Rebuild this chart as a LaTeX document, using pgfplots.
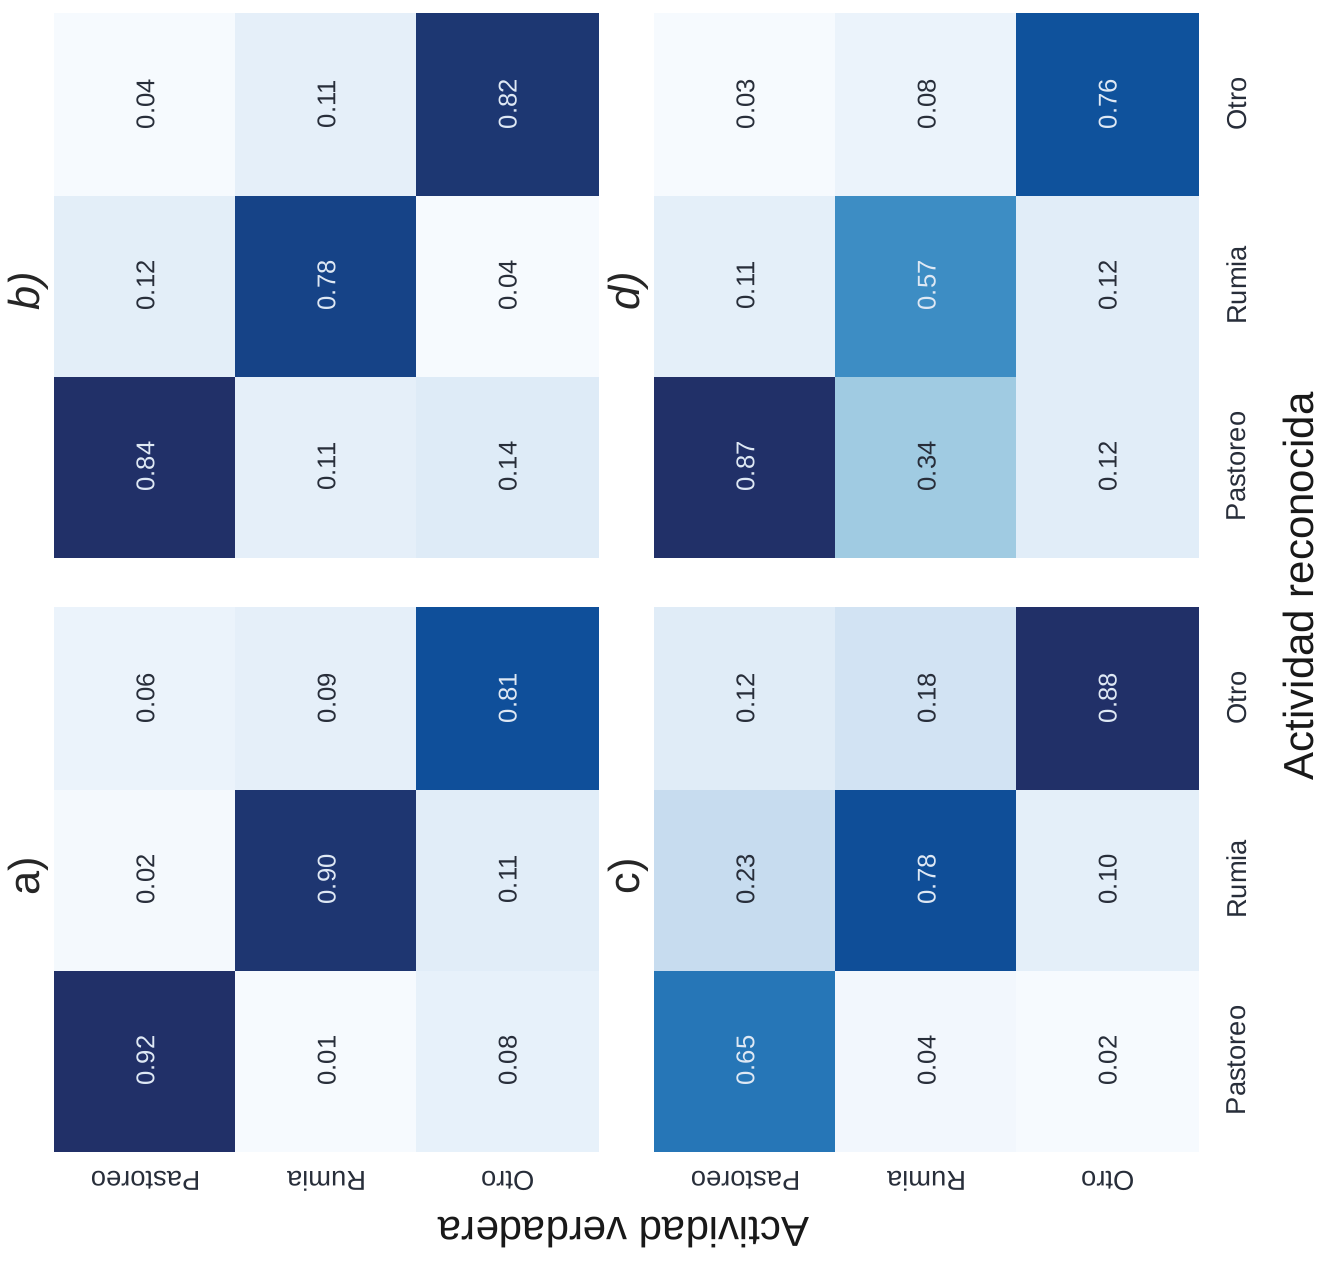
\documentclass[border=0pt]{standalone}
\usepackage{fontspec}
\setmainfont{Liberation Sans}
\usepackage{pgfplots}
\usepackage{pgfplotstable}
\pgfplotsset{compat=1.18}
\definecolor{tW}{RGB}{222,232,244}
\definecolor{tK}{RGB}{40,46,58}

% a) lower-left block ; x = true label, y = predicted label ; w = 100 for light text
\pgfplotstableread{
x y c w
0 0 0.92 100
1 0 0.01 0
2 0 0.08 0
0 1 0.02 0
1 1 0.90 100
2 1 0.11 0
0 2 0.06 0
1 2 0.09 0
2 2 0.81 100
}\dataA
% b) upper-left block
\pgfplotstableread{
x y c w
0 0 0.84 100
1 0 0.11 0
2 0 0.14 0
0 1 0.12 0
1 1 0.78 100
2 1 0.04 0
0 2 0.04 0
1 2 0.11 0
2 2 0.82 100
}\dataB
% c) lower-right block
\pgfplotstableread{
x y c w
0 0 0.65 100
1 0 0.04 0
2 0 0.02 0
0 1 0.23 0
1 1 0.78 100
2 1 0.10 0
0 2 0.12 0
1 2 0.18 0
2 2 0.88 100
}\dataC
% d) upper-right block
\pgfplotstableread{
x y c w
0 0 0.87 100
1 0 0.34 0
2 0 0.12 0
0 1 0.11 0
1 1 0.57 100
2 1 0.12 0
0 2 0.03 0
1 2 0.08 0
2 2 0.76 100
}\dataD

\pgfplotsset{
  cm/.style={
    scale only axis, width=163pt, height=163pt,
    anchor=south west,
    xmin=-0.5, xmax=2.5, ymin=-0.5, ymax=2.5, enlargelimits=false,
    axis line style={draw=none},
    major tick length=0pt,
    xtick={0,1,2}, ytick={0,1,2},
    xticklabels={,,}, yticklabels={,,},
    clip=false,
    colormap={blues}{rgb255=(246,250,254) rgb255=(222,235,247) rgb255=(198,219,239) rgb255=(158,202,225) rgb255=(107,174,214) rgb255=(66,146,198) rgb255=(33,113,181) rgb255=(14,80,155) rgb255=(33,48,104)},
  },
  xlab/.style={
    xticklabels={Pastoreo,Rumia,Otro},
    xticklabel style={rotate=180, anchor=center, font=\fontsize{8.2}{9}\selectfont, text=tK},
    xticklabel shift=9pt,
  },
  ylab/.style={
    yticklabel pos=right,
    yticklabels={Pastoreo,Rumia,Otro},
    yticklabel style={rotate=90, anchor=center, font=\fontsize{8.2}{9}\selectfont, text=tK},
    yticklabel shift=11.5pt,
  },
  cells/.style={scatter, only marks, mark=square*, mark size=27.3pt,
    point meta=explicit,
    scatter/use mapped color={draw=mapped color, fill=mapped color}},
  nums/.style={draw=none, mark=none, point meta=explicit,
    nodes near coords={\pgfmathprintnumber[fixed,fixed zerofill,precision=2,assume math mode=true]{\pgfplotspointmeta}},
    nodes near coords align=center,
    visualization depends on={\thisrow{w}\as\wv},
    every node near coord/.append style={rotate=90, anchor=center, text=tW!\wv!tK,
      font=\fontsize{7.7}{8}\selectfont}},
}

\begin{document}
\begin{tikzpicture}
\path[use as bounding box] (0,0) rectangle (397.8pt,378.9pt);

% b) upper-left
\begin{axis}[cm, at={(16.5pt,211.8pt)}, point meta min=0.04, point meta max=0.84]
\addplot[cells] table[x=x, y=y, meta=c] {\dataB};
\addplot[nums] table[x=x, y=y, meta=c] {\dataB};
\end{axis}

% d) upper-right
\begin{axis}[cm, ylab, at={(196.5pt,211.8pt)}, point meta min=0.03, point meta max=0.87]
\addplot[cells] table[x=x, y=y, meta=c] {\dataD};
\addplot[nums] table[x=x, y=y, meta=c] {\dataD};
\end{axis}

% a) lower-left
\begin{axis}[cm, xlab, at={(16.5pt,33.6pt)}, point meta min=0.01, point meta max=0.92]
\addplot[cells] table[x=x, y=y, meta=c] {\dataA};
\addplot[nums] table[x=x, y=y, meta=c] {\dataA};
\end{axis}

% c) lower-right
\begin{axis}[cm, xlab, ylab, at={(196.5pt,33.6pt)}, point meta min=0.02, point meta max=0.88]
\addplot[cells] table[x=x, y=y, meta=c] {\dataC};
\addplot[nums] table[x=x, y=y, meta=c] {\dataC};
\end{axis}

% panel labels
\node[rotate=90, font=\fontsize{13}{15}\selectfont\itshape, text=black!85] at (8.6pt,291.6pt) {b)};
\node[rotate=90, font=\fontsize{13}{15}\selectfont\itshape, text=black!85] at (188.6pt,291.6pt) {d)};
\node[rotate=90, font=\fontsize{13}{15}\selectfont, text=black!85] at (8.6pt,116.1pt) {a)};
\node[rotate=90, font=\fontsize{13}{15}\selectfont, text=black!85] at (188.6pt,116.1pt) {c)};

% axis titles
\node[rotate=90, font=\fontsize{12.6}{14}\selectfont, text=black!90] at (389.4pt,203pt) {Actividad reconocida};
\node[rotate=180, font=\fontsize{12.6}{14}\selectfont, text=black!90] at (187.2pt,9pt) {Actividad verdadera};
\end{tikzpicture}
\end{document}
